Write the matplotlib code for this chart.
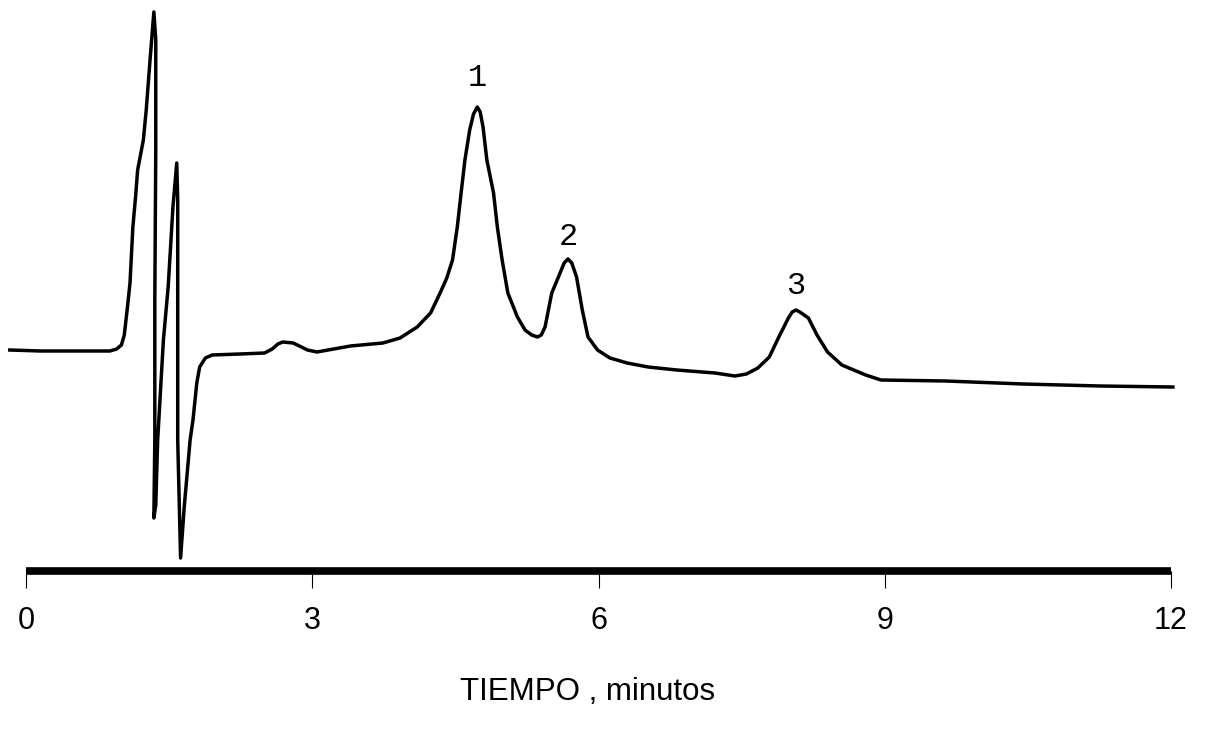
"""Chromatogram redraw: detector signal vs time (TIEMPO, minutos), three labelled peaks."""
import matplotlib
matplotlib.use("Agg")
import matplotlib.pyplot as plt

# trace: time (min) and signal (arbitrary units)
time_min = [
    -0.17, 0.15, 0.57, 0.88, 0.95, 1.00, 1.03, 1.06, 1.09, 1.12, 1.15, 1.17,
    1.23, 1.26, 1.30, 1.34, 1.36, 1.36, 1.35, 1.35, 1.34, 1.36, 1.38, 1.44,
    1.49, 1.54, 1.58, 1.59, 1.59, 1.62, 1.66, 1.72, 1.75, 1.79, 1.82, 1.88,
    1.95, 2.24,
    2.50, 2.58, 2.64, 2.69, 2.80, 2.95, 3.05, 3.40, 3.74, 3.92, 4.10, 4.24,
    4.34, 4.41, 4.47, 4.52, 4.56, 4.60, 4.65, 4.69, 4.73, 4.76, 4.79, 4.83,
    4.90, 4.94, 4.99, 5.05, 5.15, 5.23, 5.30, 5.36, 5.40, 5.44, 5.51, 5.58,
    5.64, 5.68, 5.72, 5.77, 5.83, 5.89, 5.99, 6.12, 6.30, 6.52,
    6.82, 7.22, 7.43, 7.55, 7.67, 7.79, 7.89, 7.99, 8.03, 8.07, 8.11, 8.20,
    8.29, 8.40, 8.55, 8.80, 8.96, 9.64, 10.45, 11.26, 12.02,
]
signal = [
    44.2, 44.0, 44.0, 44.0, 44.4, 45.2, 47.2, 52.2, 57.6, 68.8, 75.2, 80.2,
    86.2, 92.2, 102.2, 111.8, 106.2, 84.2, 54.2, 26.2, 10.6, 13.2, 26.2, 46.2,
    56.8, 72.8, 81.6, 74.2, 26.2, 2.6, 13.2, 26.2, 30.2, 37.6, 40.8, 42.6,
    43.2, 43.4,
    43.6, 44.4, 45.4, 45.8, 45.6, 44.2, 43.8, 45.0, 45.6, 46.6, 48.8, 51.6,
    55.6, 58.6, 62.2, 68.8, 75.6, 82.2, 88.2, 91.4, 92.8, 91.8, 88.8, 82.2,
    75.6, 68.8, 62.2, 55.6, 50.8, 48.2, 47.2, 46.8, 47.2, 48.8, 55.6, 58.8,
    61.6, 62.4, 61.6, 58.8, 52.2, 46.8, 44.2, 42.6, 41.6, 40.8,
    40.2, 39.6, 39.0, 39.4, 40.6, 42.8, 46.8, 50.6, 51.8, 52.2, 51.8, 50.6,
    47.2, 43.8, 41.2, 39.2, 38.2, 38.0, 37.4, 37.0, 36.8,
]

peak_labels = ["1", "2", "3"]
peak_time = [4.73, 5.68, 8.07]
peak_label_y = [98.7, 66.8, 57.0]

xticks = [0, 3, 6, 9, 12]
xlabel = "TIEMPO , minutos"


def main() -> None:
    fig = plt.figure(figsize=(12.05, 7.34), dpi=100)
    ax = fig.add_axes([26 / 1205, 163 / 734, 1145 / 1205, 571 / 734])

    ax.plot(time_min, signal, color="black", lw=2.5, solid_joinstyle="round",
            clip_on=False)

    for lab, t, y in zip(peak_labels, peak_time, peak_label_y):
        ax.text(t, y, lab, ha="center", va="center", fontsize=23,
                family="Liberation Mono")

    ax.set_xlim(0, 12)
    ax.set_ylim(0, 114.2)
    for side in ("top", "right", "left"):
        ax.spines[side].set_visible(False)
    ax.spines["bottom"].set_linewidth(5.5)
    ax.spines["bottom"].set_capstyle("butt")
    ax.set_yticks([])
    ax.set_xticks(xticks)
    ax.set_xticklabels([str(v) for v in xticks], family="Liberation Sans", fontsize=22)
    ax.tick_params(axis="x", direction="out", length=12, width=0.8, pad=13)

    fig.text(588 / 1205, 1 - 692 / 734, xlabel, ha="center", va="center",
             family="Liberation Sans", fontsize=22.5)

    fig.savefig("out.png", dpi=100)


if __name__ == "__main__":
    main()
